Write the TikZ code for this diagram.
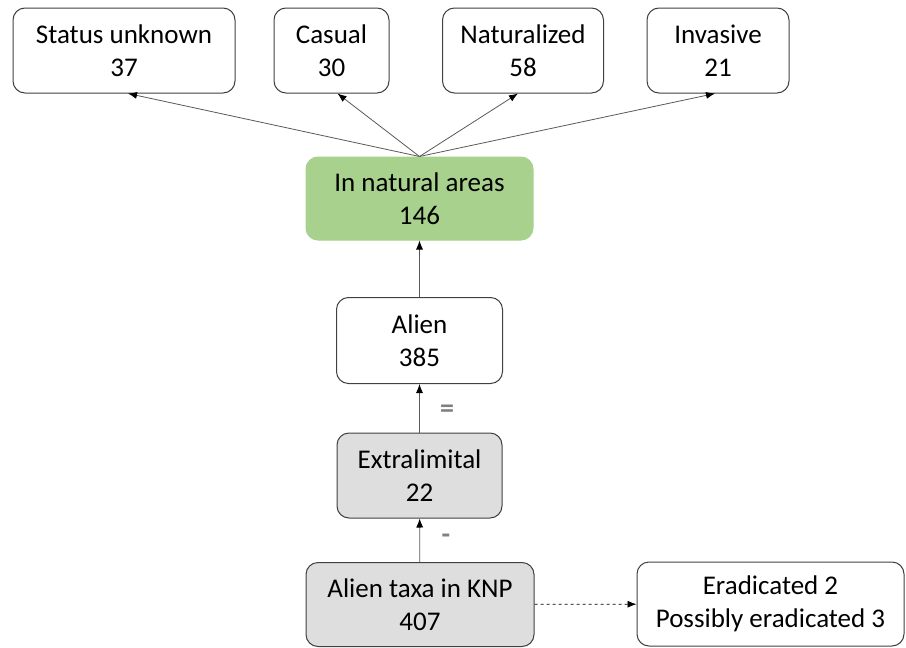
\documentclass[tikz,border=0pt]{standalone}
\usepackage{fontspec}
\setmainfont{Carlito}
\usetikzlibrary{arrows.meta}

\definecolor{natgreen}{RGB}{169,209,142}
\definecolor{boxgray}{RGB}{222,222,222}
\definecolor{edgegray}{RGB}{64,64,64}

\begin{document}
\begin{tikzpicture}[x=1pt,y=-1pt,
	box/.style={draw=edgegray,line width=1pt,rounded corners=12pt,align=center,
		font=\fontsize{27}{33}\selectfont,inner sep=0pt},
	link/.style={-{Latex[length=9pt,width=7pt,fill=black,color=black]},draw=gray!70!black,line width=0.8pt},
	sign/.style={text=gray,font=\fontsize{28}{28}\selectfont\bfseries}]

\useasboundingbox (0,0) rectangle (906,648);

% top row
\node[box,minimum width=222pt,minimum height=85pt] (su) at (124,50.5) {Status unknown\\37};
\node[box,minimum width=115pt,minimum height=85pt] (cas) at (331.5,50.5) {Casual\\30};
\node[box,minimum width=161pt,minimum height=85pt] (nat) at (523,50.5) {Naturalized\\58};
\node[box,minimum width=142pt,minimum height=85pt] (inv) at (718,50.5) {Invasive\\21};

% middle column
\node[box,draw=natgreen,fill=natgreen,minimum width=227pt,minimum height=83pt] (nar) at (419.5,198.5) {In natural areas\\146};
\node[box,minimum width=166pt,minimum height=86pt] (ali) at (419.5,340.5) {Alien\\385};
\node[box,fill=boxgray,minimum width=165pt,minimum height=85pt] (ext) at (419.5,475.5) {Extralimital\\22};
\node[box,fill=boxgray,minimum width=228pt,minimum height=84pt] (knp) at (420,604.5) {Alien taxa in KNP\\407};
\node[box,minimum width=267pt,minimum height=84pt] (era) at (770.5,604) {Eradicated 2\\Possibly eradicated 3};

% arrows
\draw[link] (nar.north) -- ([xshift=4pt]su.south);
\draw[link] (nar.north) -- ([xshift=6pt]cas.south);
\draw[link] (nar.north) -- ([xshift=-5pt]nat.south);
\draw[link] (nar.north) -- ([xshift=-3pt]inv.south);
\draw[link] (ali) -- (nar);
\draw[link] (ext) -- (ali);
\draw[link] (knp) -- (ext);
\draw[link,dashed,draw=black] (knp) -- (era);

\node[sign] (eq) at (447,411) {=};
\node[sign] (mi) at (446,539) {-};

\end{tikzpicture}
\end{document}
